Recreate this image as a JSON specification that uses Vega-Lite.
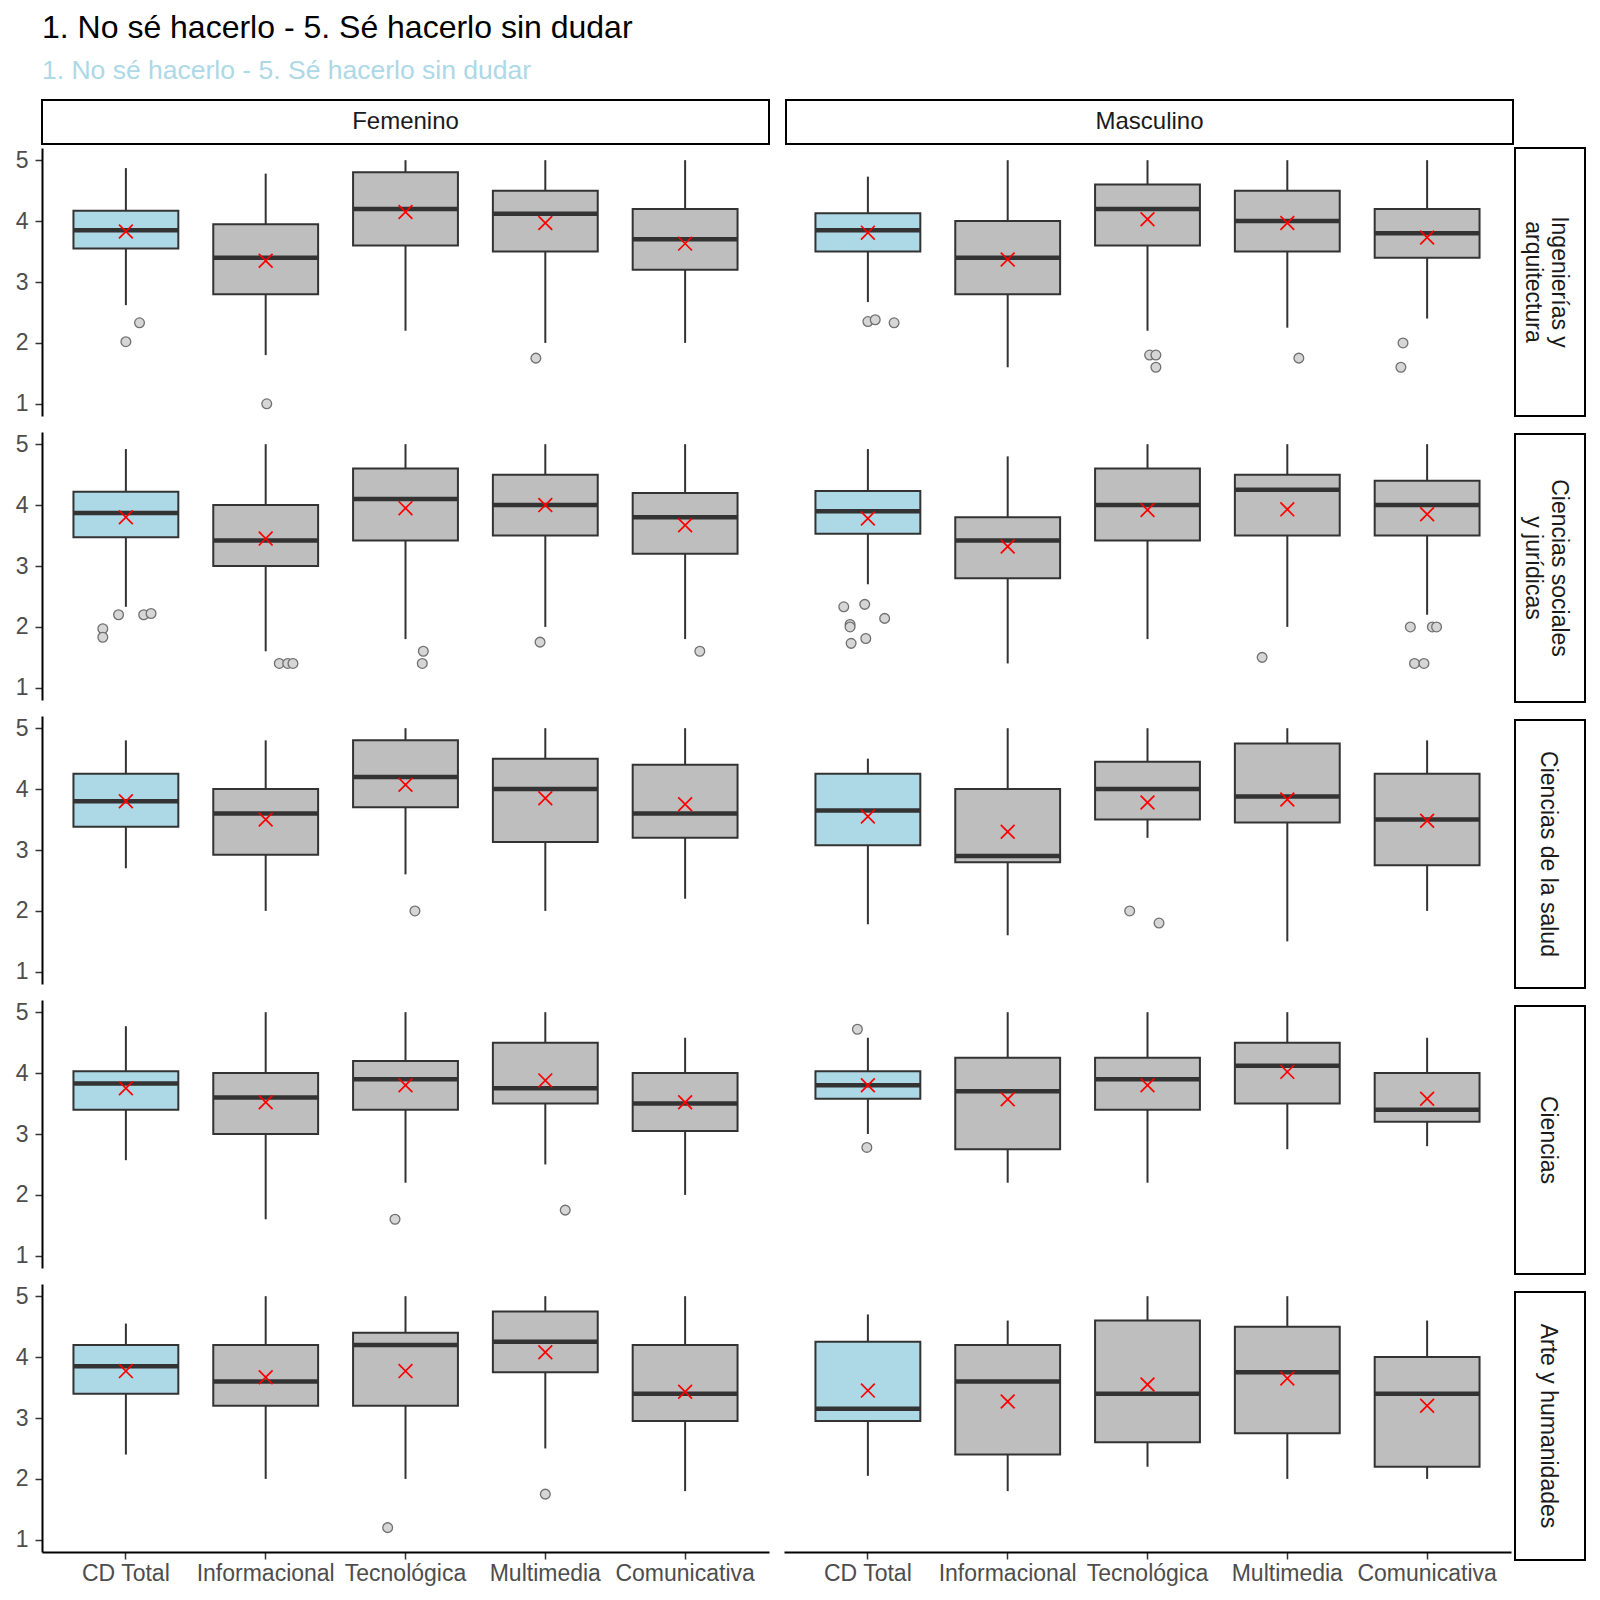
{
  "$schema": "https://vega.github.io/schema/vega-lite/v6.json",
  "padding": {"left": 14, "top": 11, "right": 10, "bottom": 8},
  "background": "white",
  "title": {
    "text": "1. No sé hacerlo - 5. Sé hacerlo sin dudar",
    "subtitle": "1. No sé hacerlo - 5. Sé hacerlo sin dudar",
    "anchor": "start",
    "frame": "group",
    "dx": 0,
    "font": "Liberation Sans",
    "subtitleFont": "Liberation Sans",
    "fontSize": 32,
    "subtitleFontSize": 26.5,
    "fontWeight": "normal",
    "color": "#000000",
    "subtitleColor": "#ADD8E6",
    "subtitlePadding": 13,
    "offset": 14
  },
  "datasets": {
    "d": [
      {"g":"Femenino","area":"Ingenierías y arquitectura","dim":"CD Total","lo":2.62,"q1":3.55,"med":3.85,"q3":4.17,"hi":4.87,"mean":3.83},
      {"g":"Femenino","area":"Ingenierías y arquitectura","dim":"Informacional","lo":1.8,"q1":2.8,"med":3.4,"q3":3.95,"hi":4.78,"mean":3.35},
      {"g":"Femenino","area":"Ingenierías y arquitectura","dim":"Tecnológica","lo":2.2,"q1":3.6,"med":4.2,"q3":4.8,"hi":5,"mean":4.15},
      {"g":"Femenino","area":"Ingenierías y arquitectura","dim":"Multimedia","lo":2.0,"q1":3.5,"med":4.12,"q3":4.5,"hi":5,"mean":3.97},
      {"g":"Femenino","area":"Ingenierías y arquitectura","dim":"Comunicativa","lo":2.0,"q1":3.2,"med":3.7,"q3":4.2,"hi":5,"mean":3.63},
      {"g":"Masculino","area":"Ingenierías y arquitectura","dim":"CD Total","lo":2.67,"q1":3.5,"med":3.85,"q3":4.13,"hi":4.73,"mean":3.81},
      {"g":"Masculino","area":"Ingenierías y arquitectura","dim":"Informacional","lo":1.6,"q1":2.8,"med":3.4,"q3":4.0,"hi":5,"mean":3.37},
      {"g":"Masculino","area":"Ingenierías y arquitectura","dim":"Tecnológica","lo":2.2,"q1":3.6,"med":4.2,"q3":4.6,"hi":5,"mean":4.03},
      {"g":"Masculino","area":"Ingenierías y arquitectura","dim":"Multimedia","lo":2.25,"q1":3.5,"med":4.0,"q3":4.5,"hi":5,"mean":3.97},
      {"g":"Masculino","area":"Ingenierías y arquitectura","dim":"Comunicativa","lo":2.4,"q1":3.4,"med":3.8,"q3":4.2,"hi":5,"mean":3.73},

      {"g":"Femenino","area":"Ciencias sociales y jurídicas","dim":"CD Total","lo":2.33,"q1":3.47,"med":3.87,"q3":4.22,"hi":4.92,"mean":3.8},
      {"g":"Femenino","area":"Ciencias sociales y jurídicas","dim":"Informacional","lo":1.6,"q1":3.0,"med":3.42,"q3":4.0,"hi":5,"mean":3.45},
      {"g":"Femenino","area":"Ciencias sociales y jurídicas","dim":"Tecnológica","lo":1.8,"q1":3.42,"med":4.1,"q3":4.6,"hi":5,"mean":3.95},
      {"g":"Femenino","area":"Ciencias sociales y jurídicas","dim":"Multimedia","lo":2.0,"q1":3.5,"med":4.0,"q3":4.5,"hi":5,"mean":4.0},
      {"g":"Femenino","area":"Ciencias sociales y jurídicas","dim":"Comunicativa","lo":1.8,"q1":3.2,"med":3.8,"q3":4.2,"hi":5,"mean":3.67},
      {"g":"Masculino","area":"Ciencias sociales y jurídicas","dim":"CD Total","lo":2.7,"q1":3.53,"med":3.9,"q3":4.23,"hi":4.92,"mean":3.78},
      {"g":"Masculino","area":"Ciencias sociales y jurídicas","dim":"Informacional","lo":1.4,"q1":2.8,"med":3.42,"q3":3.8,"hi":4.8,"mean":3.32},
      {"g":"Masculino","area":"Ciencias sociales y jurídicas","dim":"Tecnológica","lo":1.8,"q1":3.42,"med":4.0,"q3":4.6,"hi":5,"mean":3.92},
      {"g":"Masculino","area":"Ciencias sociales y jurídicas","dim":"Multimedia","lo":2.0,"q1":3.5,"med":4.25,"q3":4.5,"hi":5,"mean":3.93},
      {"g":"Masculino","area":"Ciencias sociales y jurídicas","dim":"Comunicativa","lo":2.2,"q1":3.5,"med":4.0,"q3":4.4,"hi":5,"mean":3.85},

      {"g":"Femenino","area":"Ciencias de la salud","dim":"CD Total","lo":2.7,"q1":3.38,"med":3.8,"q3":4.25,"hi":4.8,"mean":3.8},
      {"g":"Femenino","area":"Ciencias de la salud","dim":"Informacional","lo":2.0,"q1":2.92,"med":3.6,"q3":4.0,"hi":4.8,"mean":3.5},
      {"g":"Femenino","area":"Ciencias de la salud","dim":"Tecnológica","lo":2.6,"q1":3.7,"med":4.2,"q3":4.8,"hi":5,"mean":4.07},
      {"g":"Femenino","area":"Ciencias de la salud","dim":"Multimedia","lo":2.0,"q1":3.13,"med":4.0,"q3":4.5,"hi":5,"mean":3.85},
      {"g":"Femenino","area":"Ciencias de la salud","dim":"Comunicativa","lo":2.2,"q1":3.2,"med":3.6,"q3":4.4,"hi":5,"mean":3.75},
      {"g":"Masculino","area":"Ciencias de la salud","dim":"CD Total","lo":1.78,"q1":3.08,"med":3.65,"q3":4.25,"hi":4.5,"mean":3.55},
      {"g":"Masculino","area":"Ciencias de la salud","dim":"Informacional","lo":1.6,"q1":2.8,"med":2.9,"q3":4.0,"hi":5,"mean":3.3},
      {"g":"Masculino","area":"Ciencias de la salud","dim":"Tecnológica","lo":3.2,"q1":3.5,"med":4.0,"q3":4.45,"hi":5,"mean":3.78},
      {"g":"Masculino","area":"Ciencias de la salud","dim":"Multimedia","lo":1.5,"q1":3.45,"med":3.88,"q3":4.75,"hi":5,"mean":3.83},
      {"g":"Masculino","area":"Ciencias de la salud","dim":"Comunicativa","lo":2.0,"q1":2.75,"med":3.5,"q3":4.25,"hi":4.8,"mean":3.48},

      {"g":"Femenino","area":"Ciencias","dim":"CD Total","lo":2.57,"q1":3.4,"med":3.83,"q3":4.03,"hi":4.77,"mean":3.75},
      {"g":"Femenino","area":"Ciencias","dim":"Informacional","lo":1.6,"q1":3.0,"med":3.6,"q3":4.0,"hi":5,"mean":3.52},
      {"g":"Femenino","area":"Ciencias","dim":"Tecnológica","lo":2.2,"q1":3.4,"med":3.9,"q3":4.2,"hi":5,"mean":3.8},
      {"g":"Femenino","area":"Ciencias","dim":"Multimedia","lo":2.5,"q1":3.5,"med":3.75,"q3":4.5,"hi":5,"mean":3.88},
      {"g":"Femenino","area":"Ciencias","dim":"Comunicativa","lo":2.0,"q1":3.05,"med":3.5,"q3":4.0,"hi":4.58,"mean":3.52},
      {"g":"Masculino","area":"Ciencias","dim":"CD Total","lo":3.0,"q1":3.58,"med":3.8,"q3":4.03,"hi":4.58,"mean":3.8},
      {"g":"Masculino","area":"Ciencias","dim":"Informacional","lo":2.2,"q1":2.75,"med":3.7,"q3":4.25,"hi":5,"mean":3.57},
      {"g":"Masculino","area":"Ciencias","dim":"Tecnológica","lo":2.2,"q1":3.4,"med":3.9,"q3":4.25,"hi":5,"mean":3.8},
      {"g":"Masculino","area":"Ciencias","dim":"Multimedia","lo":2.75,"q1":3.5,"med":4.12,"q3":4.5,"hi":5,"mean":4.02},
      {"g":"Masculino","area":"Ciencias","dim":"Comunicativa","lo":2.8,"q1":3.2,"med":3.4,"q3":4.0,"hi":4.58,"mean":3.58},

      {"g":"Femenino","area":"Arte y humanidades","dim":"CD Total","lo":2.4,"q1":3.4,"med":3.85,"q3":4.2,"hi":4.55,"mean":3.77},
      {"g":"Femenino","area":"Arte y humanidades","dim":"Informacional","lo":2.0,"q1":3.2,"med":3.6,"q3":4.2,"hi":5,"mean":3.67},
      {"g":"Femenino","area":"Arte y humanidades","dim":"Tecnológica","lo":2.0,"q1":3.2,"med":4.2,"q3":4.4,"hi":5,"mean":3.77},
      {"g":"Femenino","area":"Arte y humanidades","dim":"Multimedia","lo":2.5,"q1":3.75,"med":4.25,"q3":4.75,"hi":5,"mean":4.08},
      {"g":"Femenino","area":"Arte y humanidades","dim":"Comunicativa","lo":1.8,"q1":2.95,"med":3.4,"q3":4.2,"hi":5,"mean":3.43},
      {"g":"Masculino","area":"Arte y humanidades","dim":"CD Total","lo":2.05,"q1":2.95,"med":3.15,"q3":4.25,"hi":4.7,"mean":3.45},
      {"g":"Masculino","area":"Arte y humanidades","dim":"Informacional","lo":1.8,"q1":2.4,"med":3.6,"q3":4.2,"hi":4.6,"mean":3.27},
      {"g":"Masculino","area":"Arte y humanidades","dim":"Tecnológica","lo":2.2,"q1":2.6,"med":3.4,"q3":4.6,"hi":5,"mean":3.55},
      {"g":"Masculino","area":"Arte y humanidades","dim":"Multimedia","lo":2.0,"q1":2.75,"med":3.75,"q3":4.5,"hi":5,"mean":3.65},
      {"g":"Masculino","area":"Arte y humanidades","dim":"Comunicativa","lo":2.0,"q1":2.2,"med":3.4,"q3":4.0,"hi":4.6,"mean":3.2},

      {"g":"Femenino","area":"Ingenierías y arquitectura","dim":"CD Total","out":2.02,"jit":0},
      {"g":"Femenino","area":"Ingenierías y arquitectura","dim":"CD Total","out":2.33,"jit":0.13},
      {"g":"Femenino","area":"Ingenierías y arquitectura","dim":"Informacional","out":1.0,"jit":0.01},
      {"g":"Femenino","area":"Ingenierías y arquitectura","dim":"Multimedia","out":1.75,"jit":-0.09},
      {"g":"Masculino","area":"Ingenierías y arquitectura","dim":"CD Total","out":2.35,"jit":0},
      {"g":"Masculino","area":"Ingenierías y arquitectura","dim":"CD Total","out":2.38,"jit":0.07},
      {"g":"Masculino","area":"Ingenierías y arquitectura","dim":"CD Total","out":2.33,"jit":0.25},
      {"g":"Masculino","area":"Ingenierías y arquitectura","dim":"Tecnológica","out":1.8,"jit":0.02},
      {"g":"Masculino","area":"Ingenierías y arquitectura","dim":"Tecnológica","out":1.8,"jit":0.08},
      {"g":"Masculino","area":"Ingenierías y arquitectura","dim":"Tecnológica","out":1.6,"jit":0.08},
      {"g":"Masculino","area":"Ingenierías y arquitectura","dim":"Multimedia","out":1.75,"jit":0.11},
      {"g":"Masculino","area":"Ingenierías y arquitectura","dim":"Comunicativa","out":2.0,"jit":-0.23},
      {"g":"Masculino","area":"Ingenierías y arquitectura","dim":"Comunicativa","out":1.6,"jit":-0.25},

      {"g":"Femenino","area":"Ciencias sociales y jurídicas","dim":"CD Total","out":1.97,"jit":-0.22},
      {"g":"Femenino","area":"Ciencias sociales y jurídicas","dim":"CD Total","out":1.83,"jit":-0.22},
      {"g":"Femenino","area":"Ciencias sociales y jurídicas","dim":"CD Total","out":2.2,"jit":-0.07},
      {"g":"Femenino","area":"Ciencias sociales y jurídicas","dim":"CD Total","out":2.2,"jit":0.17},
      {"g":"Femenino","area":"Ciencias sociales y jurídicas","dim":"CD Total","out":2.22,"jit":0.24},
      {"g":"Femenino","area":"Ciencias sociales y jurídicas","dim":"Informacional","out":1.4,"jit":0.13},
      {"g":"Femenino","area":"Ciencias sociales y jurídicas","dim":"Informacional","out":1.4,"jit":0.21},
      {"g":"Femenino","area":"Ciencias sociales y jurídicas","dim":"Informacional","out":1.4,"jit":0.26},
      {"g":"Femenino","area":"Ciencias sociales y jurídicas","dim":"Tecnológica","out":1.6,"jit":0.17},
      {"g":"Femenino","area":"Ciencias sociales y jurídicas","dim":"Tecnológica","out":1.4,"jit":0.16},
      {"g":"Femenino","area":"Ciencias sociales y jurídicas","dim":"Multimedia","out":1.75,"jit":-0.05},
      {"g":"Femenino","area":"Ciencias sociales y jurídicas","dim":"Comunicativa","out":1.6,"jit":0.14},
      {"g":"Masculino","area":"Ciencias sociales y jurídicas","dim":"CD Total","out":2.33,"jit":-0.23},
      {"g":"Masculino","area":"Ciencias sociales y jurídicas","dim":"CD Total","out":2.37,"jit":-0.03},
      {"g":"Masculino","area":"Ciencias sociales y jurídicas","dim":"CD Total","out":2.14,"jit":0.16},
      {"g":"Masculino","area":"Ciencias sociales y jurídicas","dim":"CD Total","out":2.04,"jit":-0.17},
      {"g":"Masculino","area":"Ciencias sociales y jurídicas","dim":"CD Total","out":2.0,"jit":-0.17},
      {"g":"Masculino","area":"Ciencias sociales y jurídicas","dim":"CD Total","out":1.81,"jit":-0.02},
      {"g":"Masculino","area":"Ciencias sociales y jurídicas","dim":"CD Total","out":1.73,"jit":-0.16},
      {"g":"Masculino","area":"Ciencias sociales y jurídicas","dim":"Multimedia","out":1.5,"jit":-0.24},
      {"g":"Masculino","area":"Ciencias sociales y jurídicas","dim":"Comunicativa","out":2.0,"jit":-0.16},
      {"g":"Masculino","area":"Ciencias sociales y jurídicas","dim":"Comunicativa","out":2.0,"jit":0.05},
      {"g":"Masculino","area":"Ciencias sociales y jurídicas","dim":"Comunicativa","out":2.0,"jit":0.09},
      {"g":"Masculino","area":"Ciencias sociales y jurídicas","dim":"Comunicativa","out":1.4,"jit":-0.12},
      {"g":"Masculino","area":"Ciencias sociales y jurídicas","dim":"Comunicativa","out":1.4,"jit":-0.03},

      {"g":"Femenino","area":"Ciencias de la salud","dim":"Tecnológica","out":2.0,"jit":0.09},
      {"g":"Masculino","area":"Ciencias de la salud","dim":"Tecnológica","out":2.0,"jit":-0.17},
      {"g":"Masculino","area":"Ciencias de la salud","dim":"Tecnológica","out":1.8,"jit":0.11},

      {"g":"Femenino","area":"Ciencias","dim":"Tecnológica","out":1.6,"jit":-0.1},
      {"g":"Femenino","area":"Ciencias","dim":"Multimedia","out":1.75,"jit":0.19},
      {"g":"Masculino","area":"Ciencias","dim":"CD Total","out":4.72,"jit":-0.1},
      {"g":"Masculino","area":"Ciencias","dim":"CD Total","out":2.78,"jit":-0.01},

      {"g":"Femenino","area":"Arte y humanidades","dim":"Tecnológica","out":1.2,"jit":-0.17},
      {"g":"Femenino","area":"Arte y humanidades","dim":"Multimedia","out":1.75,"jit":0}
    ],
    "areas": [
      {"area":"Ingenierías y arquitectura","single":"","a":"Ingenierías y","b":"arquitectura"},
      {"area":"Ciencias sociales y jurídicas","single":"","a":"Ciencias sociales","b":"y jurídicas"},
      {"area":"Ciencias de la salud","single":"Ciencias de la salud","a":"","b":""},
      {"area":"Ciencias","single":"Ciencias","a":"","b":""},
      {"area":"Arte y humanidades","single":"Arte y humanidades","a":"","b":""}
    ]
  },
  "spacing": 2,
  "vconcat": [
    {
      "spacing": 15,
      "hconcat": [
        {
          "data": {"values": [{"g": "Femenino"}]},
          "width": 727,
          "height": 44,
          "view": {"stroke": "#000000", "strokeWidth": 2},
          "layer": [
            {
              "mark": {"type": "text", "fontSize": 24, "font": "Liberation Sans", "color": "#1A1A1A", "align": "center", "baseline": "middle"},
              "encoding": {"text": {"field": "g", "type": "nominal"}}
            },
            {
              "mark": {"type": "rule", "opacity": 0},
              "encoding": {
                "y": {"datum": 3, "type": "quantitative", "scale": {"domain": [0.8, 5.2], "nice": false, "zero": false},
                      "axis": {"values": [3], "title": null, "labelOpacity": 0, "tickOpacity": 0, "domainOpacity": 0}}
              }
            }
          ]
        },
        {
          "data": {"values": [{"g": "Masculino"}]},
          "width": 727,
          "height": 44,
          "view": {"stroke": "#000000", "strokeWidth": 2},
          "mark": {"type": "text", "fontSize": 24, "font": "Liberation Sans", "color": "#1A1A1A", "align": "center", "baseline": "middle"},
          "encoding": {"text": {"field": "g", "type": "nominal"}}
        }
      ]
    },
    {
      "spacing": 15,
      "hconcat": [
        {
          "data": {"name": "d"},
          "transform": [{"filter": "datum.g == 'Femenino'"}],
          "facet": {"row": {"field": "area", "type": "nominal", "sort": ["Ingenierías y arquitectura","Ciencias sociales y jurídicas","Ciencias de la salud","Ciencias","Arte y humanidades"], "header": null}},
          "spacing": 16,
          "spec": {
            "width": 727,
            "height": 268,
            "resolve": {"scale": {"xOffset": "independent"}},
            "layer": [
              {
                "transform": [{"filter": "isValid(datum.med)"}],
                "mark": {"type": "rule", "color": "#333333", "strokeWidth": 2},
                "encoding": {
                  "x": {"field": "dim", "type": "nominal", "sort": ["CD Total","Informacional","Tecnológica","Multimedia","Comunicativa"], "scale": {"paddingInner": 0.25, "paddingOuter": 0.225}, "title": null, "bandPosition": 0.5},
                  "y": {"field": "lo", "type": "quantitative", "scale": {"domain": [0.8, 5.2], "nice": false, "zero": false}, "title": null, "axis": {"values": [1,2,3,4,5]}},
                  "y2": {"field": "hi"}
                }
              },
              {
                "transform": [{"filter": "isValid(datum.med)"}],
                "mark": {"type": "bar", "stroke": "#333333", "strokeWidth": 2},
                "encoding": {
                  "x": {"field": "dim", "type": "nominal", "sort": ["CD Total","Informacional","Tecnológica","Multimedia","Comunicativa"], "scale": {"paddingInner": 0.25, "paddingOuter": 0.225}, "title": null},
                  "y": {"field": "q1", "type": "quantitative", "scale": {"domain": [0.8, 5.2], "nice": false, "zero": false}, "title": null, "axis": {"values": [1,2,3,4,5]}},
                  "y2": {"field": "q3"},
                  "fill": {"field": "dim", "type": "nominal", "scale": {"domain": ["CD Total","Informacional","Tecnológica","Multimedia","Comunicativa"], "range": ["#ADD8E6","#BEBEBE","#BEBEBE","#BEBEBE","#BEBEBE"]}, "legend": null}
                }
              },
              {
                "transform": [{"filter": "isValid(datum.med)"}],
                "mark": {"type": "tick", "color": "#333333", "thickness": 4.5, "size": 105, "opacity": 1},
                "encoding": {
                  "x": {"field": "dim", "type": "nominal", "sort": ["CD Total","Informacional","Tecnológica","Multimedia","Comunicativa"], "scale": {"paddingInner": 0.25, "paddingOuter": 0.225}, "title": null},
                  "y": {"field": "med", "type": "quantitative", "scale": {"domain": [0.8, 5.2], "nice": false, "zero": false}, "title": null, "axis": {"values": [1,2,3,4,5]}}
                }
              },
              {
                "transform": [{"filter": "isValid(datum.out)"}],
                "mark": {"type": "point", "shape": "circle", "filled": true, "fill": "#D6D6D6", "stroke": "#707070", "strokeWidth": 1.3, "size": 95, "opacity": 1},
                "encoding": {
                  "x": {"field": "dim", "type": "nominal", "sort": ["CD Total","Informacional","Tecnológica","Multimedia","Comunicativa"], "scale": {"paddingInner": 0.25, "paddingOuter": 0.225}, "title": null},
                  "xOffset": {"field": "jit", "type": "quantitative", "scale": {"domain": [-0.5, 0.5]}},
                  "y": {"field": "out", "type": "quantitative", "scale": {"domain": [0.8, 5.2], "nice": false, "zero": false}, "title": null, "axis": {"values": [1,2,3,4,5]}}
                }
              },
              {
                "transform": [{"filter": "isValid(datum.med)"}],
                "mark": {"type": "point", "shape": "M-1,-1L1,1M-1,1L1,-1", "filled": false, "color": "#FF0000", "strokeWidth": 1.7, "size": 190, "opacity": 1},
                "encoding": {
                  "x": {"field": "dim", "type": "nominal", "sort": ["CD Total","Informacional","Tecnológica","Multimedia","Comunicativa"], "scale": {"paddingInner": 0.25, "paddingOuter": 0.225}, "title": null, "bandPosition": 0.5},
                  "y": {"field": "mean", "type": "quantitative", "scale": {"domain": [0.8, 5.2], "nice": false, "zero": false}, "title": null, "axis": {"values": [1,2,3,4,5]}}
                }
              }
            ]
          }
        },
        {
          "spacing": 3,
          "hconcat": [
            {
              "data": {"name": "d"},
              "transform": [{"filter": "datum.g == 'Masculino'"}],
              "facet": {"row": {"field": "area", "type": "nominal", "sort": ["Ingenierías y arquitectura","Ciencias sociales y jurídicas","Ciencias de la salud","Ciencias","Arte y humanidades"], "header": null}},
              "spacing": 16,
              "spec": {
                "width": 727,
                "height": 268,
                "resolve": {"scale": {"xOffset": "independent"}},
                "layer": [
                  {
                    "transform": [{"filter": "isValid(datum.med)"}],
                    "mark": {"type": "rule", "color": "#333333", "strokeWidth": 2},
                    "encoding": {
                      "x": {"field": "dim", "type": "nominal", "sort": ["CD Total","Informacional","Tecnológica","Multimedia","Comunicativa"], "scale": {"paddingInner": 0.25, "paddingOuter": 0.225}, "title": null, "bandPosition": 0.5},
                      "y": {"field": "lo", "type": "quantitative", "scale": {"domain": [0.8, 5.2], "nice": false, "zero": false}, "title": null, "axis": null},
                      "y2": {"field": "hi"}
                    }
                  },
                  {
                    "transform": [{"filter": "isValid(datum.med)"}],
                    "mark": {"type": "bar", "stroke": "#333333", "strokeWidth": 2},
                    "encoding": {
                      "x": {"field": "dim", "type": "nominal", "sort": ["CD Total","Informacional","Tecnológica","Multimedia","Comunicativa"], "scale": {"paddingInner": 0.25, "paddingOuter": 0.225}, "title": null},
                      "y": {"field": "q1", "type": "quantitative", "scale": {"domain": [0.8, 5.2], "nice": false, "zero": false}, "title": null, "axis": null},
                      "y2": {"field": "q3"},
                      "fill": {"field": "dim", "type": "nominal", "scale": {"domain": ["CD Total","Informacional","Tecnológica","Multimedia","Comunicativa"], "range": ["#ADD8E6","#BEBEBE","#BEBEBE","#BEBEBE","#BEBEBE"]}, "legend": null}
                    }
                  },
                  {
                    "transform": [{"filter": "isValid(datum.med)"}],
                    "mark": {"type": "tick", "color": "#333333", "thickness": 4.5, "size": 105, "opacity": 1},
                    "encoding": {
                      "x": {"field": "dim", "type": "nominal", "sort": ["CD Total","Informacional","Tecnológica","Multimedia","Comunicativa"], "scale": {"paddingInner": 0.25, "paddingOuter": 0.225}, "title": null},
                      "y": {"field": "med", "type": "quantitative", "scale": {"domain": [0.8, 5.2], "nice": false, "zero": false}, "title": null, "axis": null}
                    }
                  },
                  {
                    "transform": [{"filter": "isValid(datum.out)"}],
                    "mark": {"type": "point", "shape": "circle", "filled": true, "fill": "#D6D6D6", "stroke": "#707070", "strokeWidth": 1.3, "size": 95, "opacity": 1},
                    "encoding": {
                      "x": {"field": "dim", "type": "nominal", "sort": ["CD Total","Informacional","Tecnológica","Multimedia","Comunicativa"], "scale": {"paddingInner": 0.25, "paddingOuter": 0.225}, "title": null},
                      "xOffset": {"field": "jit", "type": "quantitative", "scale": {"domain": [-0.5, 0.5]}},
                      "y": {"field": "out", "type": "quantitative", "scale": {"domain": [0.8, 5.2], "nice": false, "zero": false}, "title": null, "axis": null}
                    }
                  },
                  {
                    "transform": [{"filter": "isValid(datum.med)"}],
                    "mark": {"type": "point", "shape": "M-1,-1L1,1M-1,1L1,-1", "filled": false, "color": "#FF0000", "strokeWidth": 1.7, "size": 190, "opacity": 1},
                    "encoding": {
                      "x": {"field": "dim", "type": "nominal", "sort": ["CD Total","Informacional","Tecnológica","Multimedia","Comunicativa"], "scale": {"paddingInner": 0.25, "paddingOuter": 0.225}, "title": null, "bandPosition": 0.5},
                      "y": {"field": "mean", "type": "quantitative", "scale": {"domain": [0.8, 5.2], "nice": false, "zero": false}, "title": null, "axis": null}
                    }
                  }
                ]
              }
            },
            {
              "data": {"name": "areas"},
              "facet": {"row": {"field": "area", "type": "nominal", "sort": ["Ingenierías y arquitectura","Ciencias sociales y jurídicas","Ciencias de la salud","Ciencias","Arte y humanidades"], "header": null}},
              "spacing": 16,
              "spec": {
                "width": 70,
                "height": 268,
                "view": {"stroke": "#000000", "strokeWidth": 2},
                "layer": [
                  {
                    "mark": {"type": "text", "angle": 90, "fontSize": 23, "font": "Liberation Sans", "color": "#1A1A1A", "align": "center", "baseline": "middle", "dy": 2},
                    "encoding": {"text": {"field": "single", "type": "nominal"}}
                  },
                  {
                    "mark": {"type": "text", "angle": 90, "fontSize": 23, "font": "Liberation Sans", "color": "#1A1A1A", "align": "center", "baseline": "middle", "dy": -8.5},
                    "encoding": {"text": {"field": "a", "type": "nominal"}}
                  },
                  {
                    "mark": {"type": "text", "angle": 90, "fontSize": 23, "font": "Liberation Sans", "color": "#1A1A1A", "align": "center", "baseline": "middle", "dy": 17.5},
                    "encoding": {"text": {"field": "b", "type": "nominal"}}
                  }
                ]
              }
            }
          ]
        }
      ]
    }
  ],
  "config": {
    "view": {"stroke": null},
    "font": "Liberation Sans",
    "axis": {
      "labelFont": "Liberation Sans",
      "labelFontSize": 23,
      "labelColor": "#4D4D4D",
      "tickColor": "#333333",
      "tickSize": 7,
      "tickWidth": 1.5,
      "domainColor": "#000000",
      "domainWidth": 2,
      "grid": false,
      "labelPadding": 7
    },
    "axisX": {"labelAngle": 0, "labelPadding": 3}
  }
}
